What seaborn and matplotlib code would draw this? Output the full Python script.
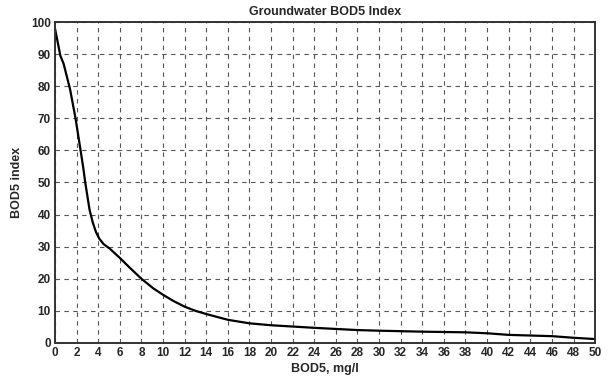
import matplotlib
matplotlib.use("Agg")
import matplotlib.pyplot as plt
import seaborn as sns
import pandas as pd

bod5 = [0, 0.5, 0.8, 1.4, 1.9, 2.3, 2.6, 2.8, 3.2, 3.5, 3.8, 4.1, 4.5, 5.1, 6.0, 6.9, 8.0, 9.1, 10.0, 11.0, 12.0, 13.0,
        14.0, 16.0, 18.0, 20.0, 24.0, 28.0, 30.0, 34.0, 38.0, 40.0, 42.0, 46.0, 48.0, 50.0]
index = [98, 89.5, 87, 79, 70, 61.5, 55, 50, 41.5, 37.5, 34.5, 32.5, 30.8, 29.3, 26.5, 23.5, 20, 17, 15, 13, 11.3, 10,
         9, 7.2, 6.1, 5.5, 4.7, 4.0, 3.8, 3.5, 3.3, 3.0, 2.5, 2.1, 1.6, 1.2]
x_ticks = list(range(0, 51, 2))
y_ticks = list(range(0, 101, 10))

df = pd.DataFrame({"x": bod5, "y": index})

sns.set_style("white")
plt.rcParams['font.family'] = ['Liberation Sans', 'DejaVu Sans']

fig = plt.figure(figsize=(6.11, 3.81), dpi=100)
ax = fig.add_axes([0.09, 0.1, 0.884, 0.842])
sns.lineplot(data=df, x="x", y="y", ax=ax, color="black", linewidth=1.6)

ax.set_xlim(0, 50)
ax.set_ylim(0, 100)
ax.set_xticks(x_ticks)
ax.set_yticks(y_ticks)
ax.grid(True, linestyle=(0, (4, 4)), color="#555555", linewidth=0.8)
for s in ax.spines.values():
    s.set_color("#333333")
    s.set_linewidth(1.4)
ax.tick_params(axis="both", length=0, pad=3, labelsize=8.5)
for lab in ax.get_xticklabels() + ax.get_yticklabels():
    lab.set_fontweight("bold")
ax.set_xlabel("BOD5, mg/l", fontsize=9, fontweight="bold", labelpad=3)
ax.set_ylabel("BOD5 index", fontsize=9, fontweight="bold", labelpad=6)
ax.set_title("Groundwater BOD5 Index", fontsize=9, fontweight="bold", pad=5)

fig.savefig("out.png", dpi=100)
